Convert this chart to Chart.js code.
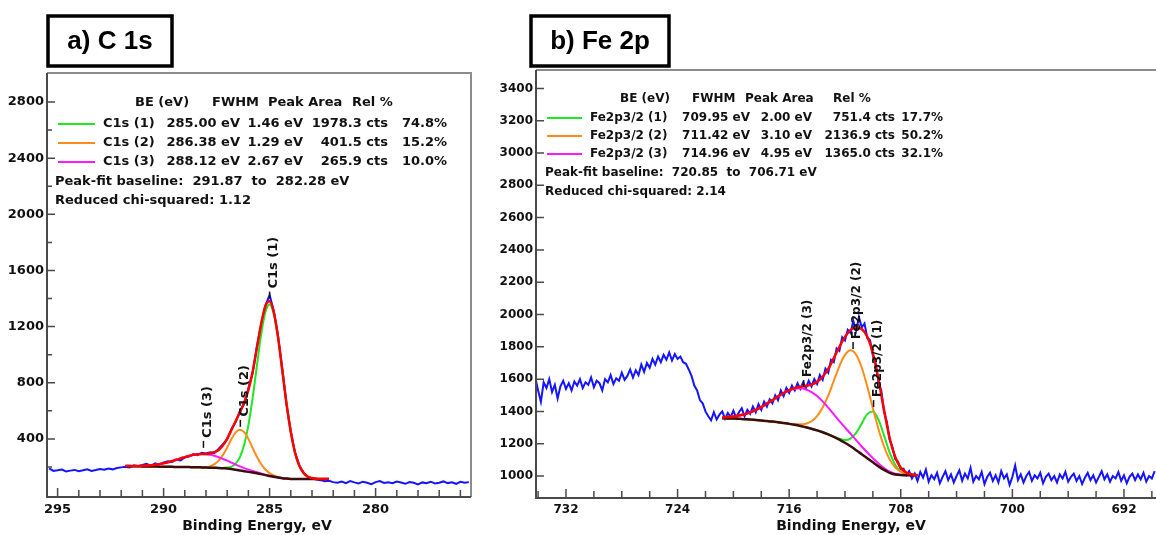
<!DOCTYPE html>
<html>
<head>
<meta charset="utf-8">
<script src="https://cdn.jsdelivr.net/npm/chart.js@4.4.1/dist/chart.umd.min.js"></script>
<style>
  html, body { margin: 0; padding: 0; background: #fff; overflow: hidden; }
  #wrap-a { position: absolute; left: 0; top: 0; width: 480px; height: 535px; }
  #wrap-b { position: absolute; left: 480px; top: 0; width: 700px; height: 535px; }
</style>
</head>
<body>
<div id="wrap-a"><canvas id="chart-a"></canvas></div>
<div id="wrap-b"><canvas id="chart-b"></canvas></div>
<script>
// ---- a) C 1s : measured counts, every 0.2 eV from 295.4 eV down ----
const c1sStart = 295.4;
const c1sStep = 0.2;
const c1sCounts = [
  190, 172, 176, 181, 168, 174, 179, 170, 176, 183,
  172, 178, 186, 180, 189, 183, 192, 197, 202, 196,
  212, 205, 214, 222, 208, 226, 218, 232, 240, 236,
  252, 246, 268, 275, 292, 284, 301, 296, 305, 300,
  330, 362, 398, 470, 520, 600, 650, 760, 870, 1060,
  1210, 1350, 1425, 1310, 1130, 900, 640, 455, 300, 215,
  160, 128, 118, 110, 106, 98, 102, 92, 88, 96,
  85, 99, 90, 82, 95, 88, 78, 92, 100, 86,
  91, 84, 96, 89, 80, 93, 87, 76, 90, 84,
  95, 82, 88, 97, 85, 91, 80, 94, 88, 92
];

// fitted curves, every 0.2 eV from 291.8 eV down to 282.2 eV
const c1sFitStart = 291.8;
const c1sFitStep = 0.2;
const c1sBaseline = [
  206, 206, 205, 205, 204, 204, 203, 203, 202, 202, 201, 201, 200, 200, 199, 199, 198, 198, 197, 196, 195, 194,
  193, 191, 189, 185, 180, 175, 170, 165, 160, 155,
  149, 142, 136, 130, 125, 120, 117, 115,
  114, 114, 114, 114, 114, 114, 114, 114, 114
];
const c1sPeak1 = [
  206, 206, 205, 205, 204, 204, 203, 203, 202, 202, 201, 201, 200, 200, 199, 199, 198, 198, 197, 196, 195, 194,
  193, 193, 196, 203, 224, 270, 358, 498, 692, 920,
  1142, 1302, 1358, 1290, 1118, 885, 649, 448,
  302, 209, 158, 132, 121, 116, 114, 114, 114
];
const c1sPeak2 = [
  206, 206, 205, 205, 204, 204, 203, 203, 202, 202, 201, 201, 200, 200, 199, 199, 198, 198, 197,
  197, 205, 220,
  245, 286, 339, 399, 446, 465, 448, 400, 335, 273,
  221, 182, 156, 139, 129, 121, 117, 115,
  114, 114, 114, 114, 114, 114, 114, 114, 114
];
const c1sPeak3 = [
  207, 207, 207, 207, 208, 210, 212, 216, 220, 226, 233, 242, 251, 261, 270, 279, 286, 291, 293, 291, 287, 280,
  269, 257, 245, 231, 217, 204, 192, 181, 171, 163,
  154, 145, 138, 131, 126, 120, 117, 115,
  114, 114, 114, 114, 114, 114, 114, 114, 114
];
const c1sEnvelope = [
  207, 207, 207, 207, 208, 210, 212, 216, 220, 226, 233, 242, 251, 261, 270, 279, 286, 291, 293, 292, 297, 306,
  321, 354, 402, 463, 527, 589, 658, 749, 878, 1046,
  1219, 1345, 1380, 1300, 1123, 886, 649, 448,
  302, 209, 158, 132, 121, 116, 114, 114, 114
];

const c1sNames = ["C1s (1)", "C1s (2)", "C1s (3)"];
const c1sBE = ["285.00 eV", "286.38 eV", "288.12 eV"];
const c1sFWHM = ["1.46 eV", "1.29 eV", "2.67 eV"];
const c1sArea = ["1978.3 cts", "401.5 cts", "265.9 cts"];
const c1sRel = ["74.8%", "15.2%", "10.0%"];
const c1sTagEnergy = [285.0, 286.38, 288.12];
const c1sTagCounts = [1400, 486, 336];

// ---- b) Fe 2p : measured counts, every 0.2 eV from 734.4 eV down ----
const feStart = 734.4;
const feStep = 0.2;
const feCounts = [
  1500, 1610, 1530, 1460, 1580, 1545, 1600, 1520, 1565, 1480,
  1555, 1590, 1540, 1575, 1530, 1585, 1560, 1600, 1545, 1580,
  1565, 1610, 1550, 1590, 1575, 1530, 1600, 1580, 1625, 1570,
  1605, 1590, 1640, 1595, 1620, 1660, 1610, 1655, 1625, 1690,
  1645, 1700, 1670, 1725, 1690, 1740, 1705, 1750, 1720, 1765,
  1715, 1755, 1725, 1740, 1705, 1695, 1660, 1620, 1560, 1530,
  1470, 1450, 1400, 1370, 1345, 1395, 1350, 1380, 1400, 1355,
  1390, 1365, 1405, 1360, 1395, 1420, 1370, 1410, 1385, 1430,
  1395, 1445, 1410, 1460, 1430, 1475, 1450, 1500, 1470, 1530,
  1495, 1545, 1515, 1560, 1530, 1575, 1540, 1580, 1545, 1590,
  1555, 1600, 1570, 1625, 1595, 1665, 1640, 1720, 1705, 1790,
  1775, 1860, 1840, 1905, 1885, 1960, 1900, 1985, 1920, 1945,
  1855, 1840, 1745, 1700, 1580, 1530, 1400, 1335, 1225, 1180,
  1105, 1090, 1040, 1045, 1005, 1030, 985, 1015, 970, 1025,
  990, 1040, 965, 1005, 980, 1020, 955, 995, 1030, 975,
  1010, 960, 1000, 1035, 970, 1015, 985, 1050, 965, 1000,
  980, 1025, 950, 995, 1020, 970, 1005, 960, 1030, 985,
  1010, 945, 995, 1065, 975, 1010, 960, 1000, 1025, 970,
  1005, 985, 1020, 955, 995, 1015, 975, 1000, 960, 1010,
  985, 1025, 965, 995, 1015, 970, 1000, 950, 990, 1020,
  975, 1005, 960, 995, 1030, 980, 1010, 965, 1000, 985,
  1025, 970, 1005, 955, 995, 1015, 975, 1010, 980, 1020,
  965, 1000, 985, 1030
];

// fitted curves, every 0.4 eV from 720.8 eV down to 706.8 eV
const feFitStart = 720.8;
const feFitStep = 0.4;
const feBaseline = [
  1358, 1357, 1356, 1354, 1352, 1350, 1347, 1344, 1341, 1337,
  1333, 1328, 1323, 1317, 1310, 1302, 1293, 1283, 1271, 1258,
  1243, 1226, 1206, 1184, 1160, 1135, 1110, 1085, 1060, 1038,
  1020, 1010, 1006, 1005, 1005, 1005
];
const fePeak1 = [
  1358, 1357, 1356, 1354, 1352, 1350, 1347, 1344, 1341, 1337,
  1333, 1328, 1323, 1317, 1310, 1302, 1293, 1283, 1271, 1258,
  1244, 1231, 1223, 1232, 1267, 1326, 1383, 1399, 1349, 1252,
  1146, 1070, 1028, 1011, 1007, 1005
];
const fePeak2 = [
  1358, 1357, 1356, 1354, 1352, 1350, 1347, 1344, 1341, 1337,
  1333, 1328, 1324, 1321, 1320, 1324, 1339, 1371, 1424, 1498,
  1590, 1681, 1750, 1779, 1751, 1672, 1554, 1420, 1291, 1183,
  1103, 1054, 1027, 1014, 1008, 1006
];
const fePeak3 = [
  1363, 1365, 1369, 1375, 1383, 1394, 1409, 1427, 1448, 1470,
  1493, 1514, 1531, 1541, 1543, 1536, 1520, 1495, 1462, 1423,
  1382, 1340, 1301, 1262, 1222, 1183, 1146, 1111, 1078, 1050,
  1027, 1014, 1008, 1006, 1005, 1005
];
const feEnvelope = [
  1363, 1365, 1369, 1375, 1383, 1394, 1409, 1427, 1448, 1470,
  1493, 1514, 1532, 1545, 1553, 1558, 1566, 1583, 1615, 1663,
  1730, 1800, 1862, 1905, 1920, 1911, 1863, 1760, 1598, 1409,
  1236, 1118, 1051, 1021, 1010, 1006
];

const feNames = ["Fe2p3/2 (1)", "Fe2p3/2 (2)", "Fe2p3/2 (3)"];
const feBE = ["709.95 eV", "711.42 eV", "714.96 eV"];
const feFWHM = ["2.00 eV", "3.10 eV", "4.95 eV"];
const feArea = ["751.4 cts", "2136.9 cts", "1365.0 cts"];
const feRel = ["17.7%", "50.2%", "32.1%"];
const feTagEnergy = [709.95, 711.42, 714.96];
const feTagCounts = [1427, 1786, 1551];

// ---- styles ----
const FONT = '"DejaVu Sans", sans-serif';
const COLORS = {
  data: "#1414ff",
  envelope: "#ff0000",
  baseline: "#3d0c0c",
  peaks: ["#22e622", "#ff8c1a", "#ff1aff"],
  axis: "#4a4a4a",
  frame: "#8c8c8c",
};

function toPoints(start, step, values) {
  return values.map((v, i) => ({ x: +(start - i * step).toFixed(2), y: v }));
}

function tickList(from, to, step) {
  const list = [];
  for (let v = from; v <= to + 1e-9; v += step) list.push(+v.toFixed(2));
  return list;
}

function isMajor(v, base, step) {
  const r = Math.abs((v - base) % step);
  return r < 1e-6 || Math.abs(r - step) < 1e-6;
}

const decorPlugin = {
  id: "decor",
  afterDatasetsDraw(chart, args, o) {
    const ctx = chart.ctx;
    const area = chart.chartArea;
    const xs = chart.scales.x;
    const ys = chart.scales.y;
    ctx.save();

    // frame
    ctx.lineWidth = 2;
    ctx.strokeStyle = COLORS.frame;
    ctx.beginPath();
    ctx.moveTo(area.left, area.top);
    ctx.lineTo(area.right, area.top);
    ctx.lineTo(area.right, area.bottom);
    ctx.stroke();
    ctx.strokeStyle = COLORS.axis;
    ctx.beginPath();
    ctx.moveTo(area.left, area.top);
    ctx.lineTo(area.left, area.bottom);
    ctx.lineTo(area.right, area.bottom);
    ctx.stroke();

    // tick marks pointing into the plot
    ctx.lineWidth = 1.5;
    ctx.beginPath();
    xs.ticks.forEach((t) => {
      const px = xs.getPixelForValue(t.value);
      const len = isMajor(t.value, o.xBase, o.xMajor) ? 9 : 7;
      ctx.moveTo(px, area.bottom);
      ctx.lineTo(px, area.bottom - len);
    });
    ys.ticks.forEach((t) => {
      const py = ys.getPixelForValue(t.value);
      const len = isMajor(t.value, 0, o.yMajor) ? 8 : 5;
      ctx.moveTo(area.left, py);
      ctx.lineTo(area.left + len, py);
    });
    ctx.stroke();

    // peak tags
    ctx.fillStyle = "#111";
    ctx.strokeStyle = "#111";
    ctx.font = `bold ${o.tagSize}px ${FONT}`;
    o.tagNames.forEach((name, i) => {
      const px = xs.getPixelForValue(o.tagEnergy[i]);
      const py = ys.getPixelForValue(o.tagCounts[i]);
      ctx.beginPath();
      ctx.moveTo(px, py);
      ctx.lineTo(px, py - 7);
      ctx.stroke();
      ctx.save();
      ctx.translate(px + 4, py - 10);
      ctx.rotate(-Math.PI / 2);
      ctx.textAlign = "left";
      ctx.textBaseline = "middle";
      ctx.fillText(name, 0, 0);
      ctx.restore();
    });

    // fit table
    const L = o.legend;
    ctx.font = `bold ${L.size}px ${FONT}`;
    ctx.textBaseline = "middle";
    ctx.textAlign = "left";
    ctx.fillText("BE (eV)", L.head[0], L.headY);
    ctx.fillText("FWHM", L.head[1], L.headY);
    ctx.fillText("Peak Area", L.head[2], L.headY);
    ctx.fillText("Rel %", L.head[3], L.headY);
    o.tagNames.forEach((name, i) => {
      const y = L.rowY[i];
      ctx.strokeStyle = COLORS.peaks[i];
      ctx.lineWidth = 2;
      ctx.beginPath();
      ctx.moveTo(L.line[0], y);
      ctx.lineTo(L.line[1], y);
      ctx.stroke();
      ctx.textAlign = "left";
      ctx.fillText(name, L.name, y);
      ctx.textAlign = "right";
      ctx.fillText(o.be[i], L.cols[0], y);
      ctx.fillText(o.fwhm[i], L.cols[1], y);
      ctx.fillText(o.area[i], L.cols[2], y);
      ctx.fillText(o.rel[i], L.cols[3], y);
    });
    ctx.textAlign = "left";
    ctx.fillText(o.baselineText, L.foot, L.footY[0]);
    ctx.fillText(o.chiText, L.foot, L.footY[1]);

    // axis title
    ctx.textAlign = "center";
    ctx.font = `bold 14px ${FONT}`;
    ctx.fillText("Binding Energy, eV", o.axisTitle[0], o.axisTitle[1]);

    // panel title box
    const b = o.box;
    ctx.lineWidth = 3.5;
    ctx.strokeStyle = "#000";
    ctx.strokeRect(b.x, b.y, b.w, b.h);
    ctx.fillStyle = "#000";
    ctx.font = 'bold 26px "Liberation Sans", Arial, sans-serif';
    ctx.textAlign = "center";
    ctx.fillText(o.title, b.x + b.w / 2, b.y + b.h / 2 + 1);
    ctx.restore();
  },
};

function makePanel(canvasId, p) {
  const ctx = document.getElementById(canvasId).getContext("2d");
  const tickFont = { family: FONT, weight: "bold", size: p.tickSize };
  const line = (label, data, color, width, smooth) => ({
    label,
    data,
    borderColor: color,
    borderWidth: width,
    pointRadius: 0,
    fill: false,
    cubicInterpolationMode: smooth ? "monotone" : "default",
    tension: 0,
  });
  return new Chart(ctx, {
    type: "line",
    data: {
      datasets: [
        line("Envelope", p.envelope, COLORS.envelope, 2.5, true),
        line("Baseline", p.baseline, COLORS.baseline, 2.5, true),
        line(p.decor.tagNames[2], p.peaks[2], COLORS.peaks[2], 2, true),
        line(p.decor.tagNames[1], p.peaks[1], COLORS.peaks[1], 2, true),
        line(p.decor.tagNames[0], p.peaks[0], COLORS.peaks[0], 2, true),
        line("Counts", p.counts, COLORS.data, 2, false),
      ],
    },
    options: {
      responsive: true,
      maintainAspectRatio: false,
      animation: false,
      events: [],
      layout: { padding: p.padding },
      plugins: {
        legend: { display: false },
        tooltip: { enabled: false },
        decor: p.decor,
      },
      scales: {
        x: {
          type: "linear",
          reverse: true,
          min: p.xMin,
          max: p.xMax,
          afterBuildTicks: (s) => {
            s.ticks = p.xTicks.map((v) => ({ value: v }));
          },
          afterFit: (s) => {
            s.height = p.xHeight;
          },
          grid: { display: false, drawTicks: false },
          border: { display: false },
          ticks: {
            autoSkip: false,
            maxRotation: 0,
            padding: 5,
            color: "#111",
            font: tickFont,
            callback: (v) => (isMajor(v, p.decor.xBase, p.decor.xMajor) ? String(v) : ""),
          },
        },
        y: {
          min: p.yMin,
          max: p.yMax,
          afterBuildTicks: (s) => {
            s.ticks = p.yTicks.map((v) => ({ value: v }));
          },
          afterFit: (s) => {
            s.width = p.yWidth;
          },
          grid: { display: false, drawTicks: false },
          border: { display: false },
          ticks: {
            autoSkip: false,
            padding: 3,
            color: "#111",
            font: tickFont,
            callback: (v) => (isMajor(v, 0, p.decor.yMajor) ? String(v) : ""),
          },
        },
      },
    },
    plugins: [decorPlugin],
  });
}

makePanel("chart-a", {
  counts: toPoints(c1sStart, c1sStep, c1sCounts),
  envelope: toPoints(c1sFitStart, c1sFitStep, c1sEnvelope),
  baseline: toPoints(c1sFitStart, c1sFitStep, c1sBaseline),
  peaks: [c1sPeak1, c1sPeak2, c1sPeak3].map((v) => toPoints(c1sFitStart, c1sFitStep, v)),
  xMin: 275.5,
  xMax: 295.5,
  yMin: -14,
  yMax: 3007,
  xTicks: tickList(276, 295, 1),
  yTicks: tickList(200, 2800, 200),
  padding: { top: 73, right: 9, left: 0, bottom: 0 },
  xHeight: 38,
  yWidth: 47,
  tickSize: 13,
  decor: {
    xBase: 0,
    xMajor: 5,
    yMajor: 400,
    title: "a) C 1s",
    box: { x: 48, y: 16, w: 124, h: 50 },
    axisTitle: [257, 526],
    tagNames: c1sNames,
    tagEnergy: c1sTagEnergy,
    tagCounts: c1sTagCounts,
    tagSize: 13,
    be: c1sBE,
    fwhm: c1sFWHM,
    area: c1sArea,
    rel: c1sRel,
    baselineText: "Peak-fit baseline:  291.87  to  282.28 eV",
    chiText: "Reduced chi-squared: 1.12",
    legend: {
      size: 13,
      headY: 103,
      head: [135, 212, 268, 352],
      rowY: [124, 143, 162],
      line: [58, 95],
      name: 103,
      cols: [240, 303, 388, 447],
      foot: 55,
      footY: [182, 201],
    },
  },
});

makePanel("chart-b", {
  counts: toPoints(feStart, feStep, feCounts),
  envelope: toPoints(feFitStart, feFitStep, feEnvelope),
  baseline: toPoints(feFitStart, feFitStep, feBaseline),
  peaks: [fePeak1, fePeak2, fePeak3].map((v) => toPoints(feFitStart, feFitStep, v)),
  xMin: 688.7,
  xMax: 734.15,
  yMin: 864,
  yMax: 3514,
  xTicks: tickList(690, 734, 2),
  yTicks: tickList(1000, 3400, 200),
  padding: { top: 70, right: 10, left: 0, bottom: 0 },
  xHeight: 37,
  yWidth: 56,
  tickSize: 12,
  decor: {
    xBase: 692,
    xMajor: 8,
    yMajor: 200,
    title: "b) Fe 2p",
    box: { x: 51, y: 16, w: 138, h: 50 },
    axisTitle: [371, 526],
    tagNames: feNames,
    tagEnergy: feTagEnergy,
    tagCounts: feTagCounts,
    tagSize: 12,
    be: feBE,
    fwhm: feFWHM,
    area: feArea,
    rel: feRel,
    baselineText: "Peak-fit baseline:  720.85  to  706.71 eV",
    chiText: "Reduced chi-squared: 2.14",
    legend: {
      size: 12,
      headY: 99,
      head: [140, 212, 265, 353],
      rowY: [118, 136, 154],
      line: [67, 102],
      name: 110,
      cols: [270, 332, 415, 463],
      foot: 65,
      footY: [173, 192],
    },
  },
});
</script>
</body>
</html>
